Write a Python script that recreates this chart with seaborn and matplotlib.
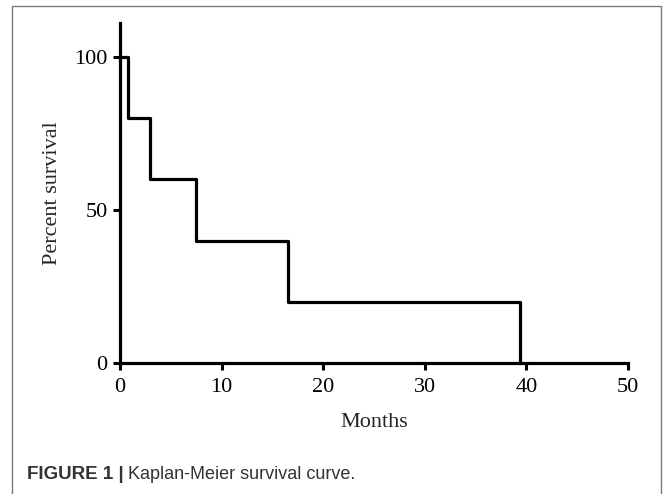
import numpy as np
import pandas as pd
import seaborn as sns
import matplotlib.pyplot as plt
from matplotlib.patches import Rectangle

# Kaplan-Meier steps
months = [0, 0.8, 2.9, 7.5, 16.5, 39.4]
survival = [100, 80, 60, 40, 20, 0]
x_ticks = [0, 10, 20, 30, 40, 50]
y_ticks = [0, 50, 100]

df = pd.DataFrame({'Months': months, 'Percent survival': survival})

sns.set_style('ticks')
plt.rcParams['font.family'] = ['Liberation Serif', 'DejaVu Serif']

fig = plt.figure(figsize=(6.67, 4.94), dpi=100)
ax = fig.add_axes([0.18, 0.265, 0.7615, 0.688])

sns.lineplot(data=df, x='Months', y='Percent survival', drawstyle='steps-post',
             estimator=None, sort=False, color='black', linewidth=2.3,
             clip_on=False, ax=ax)

ax.set_xlim(0, 50)
ax.set_ylim(0, 111)
ax.set_xticks(x_ticks)
ax.set_yticks(y_ticks)
ax.tick_params(length=5, width=2.2, labelsize=16, colors='black')
ax.tick_params(axis='x', pad=6)
ax.tick_params(axis='y', pad=4)
sns.despine(ax=ax)
for side in ['left', 'bottom']:
    ax.spines[side].set_linewidth(2.3)
    ax.spines[side].set_color('black')
ax.set_xlabel('Months', fontsize=16, labelpad=11)
ax.set_ylabel('Percent survival', fontsize=16, labelpad=9)

# figure frame and caption
fig.patches.append(Rectangle((12 / 667, -0.01), (661 - 12) / 667, 1 - 6 / 494 + 0.01,
                             transform=fig.transFigure, fill=False,
                             edgecolor='#7a7a7a', linewidth=1.0))
cap_y = 1 - 474 / 494
fig.text(27 / 667, cap_y, 'FIGURE 1 |', fontsize=13.5, fontweight='bold',
         color='#333333', family=['Liberation Sans', 'DejaVu Sans'], va='center')
fig.text(128 / 667, cap_y, 'Kaplan-Meier survival curve.', fontsize=13,
         color='#333333', family=['Liberation Sans', 'DejaVu Sans'], va='center')

fig.savefig('out.png', dpi=100)
